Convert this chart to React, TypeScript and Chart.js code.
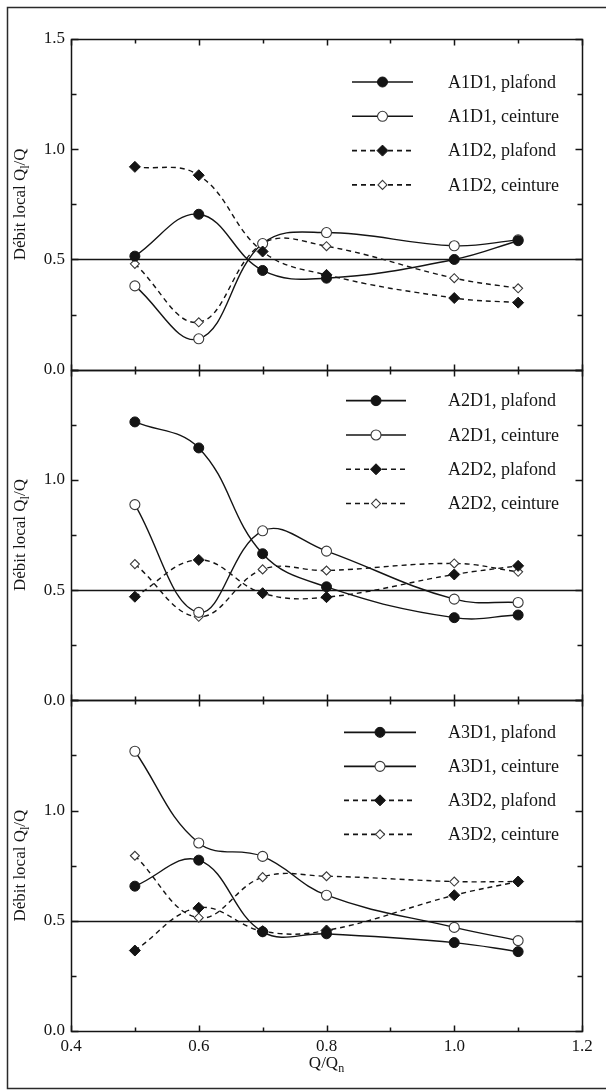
import React, { useEffect, useRef } from 'react';
import { Chart, registerables } from 'chart.js';

Chart.register(...registerables);

// ---------- data ----------
const X_VALUES = [0.5, 0.6, 0.7, 0.8, 1.0, 1.1];

const A1D1_PLAFOND = [0.515, 0.705, 0.45, 0.415, 0.5, 0.585];
const A1D1_CEINTURE = [0.38, 0.14, 0.572, 0.622, 0.562, 0.589];
const A1D2_PLAFOND = [0.92, 0.882, 0.536, 0.43, 0.325, 0.304];
const A1D2_CEINTURE = [0.48, 0.215, 0.572, 0.56, 0.415, 0.369];

const A2D1_PLAFOND = [1.263, 1.145, 0.665, 0.515, 0.375, 0.387];
const A2D1_CEINTURE = [0.888, 0.399, 0.769, 0.677, 0.459, 0.444];
const A2D2_PLAFOND = [0.47, 0.637, 0.486, 0.468, 0.571, 0.61];
const A2D2_CEINTURE = [0.618, 0.379, 0.594, 0.589, 0.621, 0.583];

const A3D1_PLAFOND = [0.657, 0.775, 0.45, 0.441, 0.401, 0.36];
const A3D1_CEINTURE = [1.269, 0.853, 0.792, 0.616, 0.47, 0.41];
const A3D2_PLAFOND = [0.365, 0.559, 0.453, 0.456, 0.616, 0.678];
const A3D2_CEINTURE = [0.795, 0.514, 0.698, 0.702, 0.678, 0.678];

const PANELS = ['A1', 'A2', 'A3'];
const PANEL_SERIES = [
  [A1D1_PLAFOND, A1D1_CEINTURE, A1D2_PLAFOND, A1D2_CEINTURE],
  [A2D1_PLAFOND, A2D1_CEINTURE, A2D2_PLAFOND, A2D2_CEINTURE],
  [A3D1_PLAFOND, A3D1_CEINTURE, A3D2_PLAFOND, A3D2_CEINTURE],
];
const SERIES_SUFFIXES = ['D1, plafond', 'D1, ceinture', 'D2, plafond', 'D2, ceinture'];

const X_MIN = 0.4;
const X_MAX = 1.2;
const X_STEP = 0.1;
const X_MAJOR = [0.4, 0.6, 0.8, 1.0, 1.2];
const X_TICK_LABELS = ['0.4', '0.6', '0.8', '1.0', '1.2'];

const Y_MIN = 0;
const Y_MAX = 1.5;
const Y_STEP = 0.25;
const Y_MAJOR = [0, 0.5, 1.0, 1.5];
const Y_TICK_LABELS = ['0.0', '0.5', '1.0', '1.5'];

const REFERENCE_LEVEL = 0.5;

const Y_TITLE_MAIN = 'Débit local Q';
const Y_TITLE_SUB = 'l';
const Y_TITLE_END = '/Q';
const X_TITLE_MAIN = 'Q/Q';
const X_TITLE_SUB = 'n';

// ---------- styles ----------
const INK = '#141414';
const FONT = "'Liberation Serif', 'Times New Roman', serif";

type SeriesStyle = { dash: number[]; shape: 'circle' | 'diamond'; filled: boolean; radius: number };
const SERIES_STYLES: SeriesStyle[] = [
  { dash: [], shape: 'circle', filled: true, radius: 5 },
  { dash: [], shape: 'circle', filled: false, radius: 5 },
  { dash: [5, 4], shape: 'diamond', filled: true, radius: 5.5 },
  { dash: [5, 4], shape: 'diamond', filled: false, radius: 4.5 },
];

const LEGEND_LAYOUT = [
  { firstRow: 43, rowGap: 34.3, x0: 352, x1: 413 },
  { firstRow: 31, rowGap: 34.3, x0: 346, x1: 406 },
  { firstRow: 32, rowGap: 34.0, x0: 344, x1: 416 },
];
const LEGEND_TEXT_X = 448;

const isMajor = (v: number, majors: number[]) => majors.some((m) => Math.abs(m - v) < 1e-6);
const labelFor = (v: number, majors: number[], labels: string[]) => {
  const i = majors.findIndex((m) => Math.abs(m - v) < 1e-6);
  return i >= 0 ? labels[i] : '';
};

function drawMarker(ctx: CanvasRenderingContext2D, st: SeriesStyle, x: number, y: number) {
  ctx.save();
  ctx.setLineDash([]);
  ctx.beginPath();
  if (st.shape === 'circle') {
    ctx.arc(x, y, st.radius, 0, Math.PI * 2);
  } else {
    ctx.moveTo(x - st.radius, y);
    ctx.lineTo(x, y - st.radius);
    ctx.lineTo(x + st.radius, y);
    ctx.lineTo(x, y + st.radius);
    ctx.closePath();
  }
  ctx.fillStyle = st.filled ? INK : '#ffffff';
  ctx.fill();
  ctx.lineWidth = st.filled ? 1 : 1.1;
  ctx.strokeStyle = st.filled ? INK : '#3a3a3a';
  ctx.stroke();
  ctx.restore();
}

const panelPlugin = {
  id: 'panelDecor',
  beforeDatasetsDraw(chart: any) {
    const { ctx, chartArea } = chart;
    ctx.save();
    ctx.strokeStyle = INK;
    ctx.lineWidth = 1.5;
    PANELS.forEach((p) => {
      const s = chart.scales['y' + p];
      const py = Math.round(s.getPixelForValue(REFERENCE_LEVEL)) + 0.5;
      ctx.beginPath();
      ctx.moveTo(chartArea.left, py);
      ctx.lineTo(chartArea.right, py);
      ctx.stroke();
    });
    ctx.restore();
  },
  afterDatasetsDraw(chart: any) {
    const { ctx, chartArea } = chart;
    const xs = chart.scales.x;
    ctx.save();
    ctx.strokeStyle = INK;
    ctx.lineWidth = 1.5;
    PANELS.forEach((p) => {
      const s = chart.scales['y' + p];
      const top = Math.round(s.top) + 0.5;
      const bottom = Math.round(s.bottom) + 0.5;
      const left = Math.round(chartArea.left) + 0.5;
      const right = Math.round(chartArea.right) + 0.5;
      ctx.strokeRect(left, top, right - left, bottom - top);
      s.ticks.forEach((t: any) => {
        const py = Math.round(s.getPixelForValue(t.value)) + 0.5;
        const len = isMajor(t.value, Y_MAJOR) ? 7 : 5;
        ctx.beginPath();
        ctx.moveTo(left, py);
        ctx.lineTo(left + len, py);
        ctx.moveTo(right, py);
        ctx.lineTo(right - len, py);
        ctx.stroke();
      });
      xs.ticks.forEach((t: any) => {
        const px = Math.round(xs.getPixelForValue(t.value)) + 0.5;
        const len = isMajor(t.value, X_MAJOR) ? 6 : 4;
        ctx.beginPath();
        ctx.moveTo(px, top);
        ctx.lineTo(px, top + len);
        ctx.moveTo(px, bottom);
        ctx.lineTo(px, bottom - len);
        ctx.stroke();
      });
    });
    ctx.restore();
  },
  afterDraw(chart: any) {
    const { ctx } = chart;
    ctx.save();
    PANELS.forEach((p, pi) => {
      const s = chart.scales['y' + p];
      const lay = LEGEND_LAYOUT[pi];
      SERIES_SUFFIXES.forEach((suf, si) => {
        const st = SERIES_STYLES[si];
        const y = s.top + lay.firstRow + si * lay.rowGap;
        ctx.save();
        ctx.strokeStyle = INK;
        ctx.lineWidth = 1.6;
        ctx.setLineDash(st.dash);
        ctx.beginPath();
        ctx.moveTo(lay.x0, y);
        ctx.lineTo(lay.x1, y);
        ctx.stroke();
        ctx.restore();
        drawMarker(ctx, st, (lay.x0 + lay.x1) / 2, y);
        ctx.fillStyle = INK;
        ctx.font = `18px ${FONT}`;
        ctx.textAlign = 'left';
        ctx.textBaseline = 'middle';
        ctx.fillText(p + suf, LEGEND_TEXT_X, y + 1);
      });
    });
    PANELS.forEach((p) => {
      const s = chart.scales['y' + p];
      const cy = (s.top + s.bottom) / 2;
      ctx.save();
      ctx.translate(19, cy);
      ctx.rotate(-Math.PI / 2);
      ctx.fillStyle = INK;
      ctx.textBaseline = 'alphabetic';
      ctx.textAlign = 'left';
      const big = `17px ${FONT}`;
      const small = `12px ${FONT}`;
      ctx.font = big;
      const w1 = ctx.measureText(Y_TITLE_MAIN).width;
      const w3 = ctx.measureText(Y_TITLE_END).width;
      ctx.font = small;
      const w2 = ctx.measureText(Y_TITLE_SUB).width;
      const total = w1 + w2 + w3;
      let x = -total / 2;
      const base = 6;
      ctx.font = big;
      ctx.fillText(Y_TITLE_MAIN, x, base);
      x += w1;
      ctx.font = small;
      ctx.fillText(Y_TITLE_SUB, x, base + 4);
      x += w2;
      ctx.font = big;
      ctx.fillText(Y_TITLE_END, x, base);
      ctx.restore();
    });
    {
      const xs = chart.scales.x;
      const cx = (xs.left + xs.right) / 2;
      const big = `17px ${FONT}`;
      const small = `12px ${FONT}`;
      ctx.fillStyle = INK;
      ctx.textBaseline = 'alphabetic';
      ctx.textAlign = 'left';
      ctx.font = big;
      const w1 = ctx.measureText(X_TITLE_MAIN).width;
      ctx.font = small;
      const w2 = ctx.measureText(X_TITLE_SUB).width;
      const x = cx - (w1 + w2) / 2;
      const base = 1068;
      ctx.font = big;
      ctx.fillText(X_TITLE_MAIN, x, base);
      ctx.font = small;
      ctx.fillText(X_TITLE_SUB, x + w1, base + 4);
    }
    ctx.strokeStyle = '#2a2a2a';
    ctx.lineWidth = 1.5;
    ctx.beginPath();
    ctx.moveTo(620, 7.5);
    ctx.lineTo(7.5, 7.5);
    ctx.lineTo(7.5, 1088.5);
    ctx.lineTo(620, 1088.5);
    ctx.stroke();
    ctx.restore();
  },
};

export default function App() {
  const canvasRef = useRef<HTMLCanvasElement | null>(null);

  useEffect(() => {
    if (!canvasRef.current) return;
    Chart.defaults.font.family = FONT;
    Chart.defaults.color = INK;

    const datasets: any[] = [];
    PANELS.forEach((p, pi) => {
      PANEL_SERIES[pi].forEach((values, si) => {
        const st = SERIES_STYLES[si];
        datasets.push({
          label: p + SERIES_SUFFIXES[si],
          data: X_VALUES.map((x, i) => ({ x, y: values[i] })),
          yAxisID: 'y' + p,
          xAxisID: 'x',
          borderColor: INK,
          borderWidth: 1.4,
          borderDash: st.dash,
          tension: 0.4,
          fill: false,
          pointStyle: st.shape === 'circle' ? 'circle' : 'rectRot',
          pointRadius: st.radius,
          pointBackgroundColor: st.filled ? INK : '#ffffff',
          pointBorderColor: st.filled ? INK : '#3a3a3a',
          pointBorderWidth: st.filled ? 1 : 1.1,
          order: st.filled ? 0 : 1,
        });
      });
    });

    const yScale = (weight: number, showTop: boolean) => ({
      type: 'linear',
      position: 'left',
      stack: 'panels',
      stackWeight: 1,
      weight,
      min: Y_MIN,
      max: Y_MAX,
      grid: { display: false, drawTicks: false },
      border: { display: false },
      ticks: {
        stepSize: Y_STEP,
        autoSkip: false,
        padding: 6,
        font: { size: 17, family: FONT },
        color: INK,
        callback: (v: number) => (!showTop && Math.abs(v - Y_MAX) < 1e-6 ? '' : labelFor(v, Y_MAJOR, Y_TICK_LABELS)),
      },
      afterFit: (s: any) => {
        s.width = 71;
      },
    });

    const chart = new Chart(canvasRef.current, {
      type: 'line',
      data: { datasets },
      options: {
        animation: false,
        responsive: false,
        devicePixelRatio: 1,
        events: [],
        layout: { padding: { left: 0, top: 39, right: 24, bottom: 0 } },
        plugins: { legend: { display: false }, tooltip: { enabled: false }, title: { display: false } },
        scales: {
          x: {
            type: 'linear',
            position: 'bottom',
            min: X_MIN,
            max: X_MAX,
            grid: { display: false, drawTicks: false },
            border: { display: false },
            ticks: {
              stepSize: X_STEP,
              autoSkip: false,
              maxRotation: 0,
              padding: 5,
              font: { size: 17, family: FONT },
              color: INK,
              callback: (v: number) => labelFor(v, X_MAJOR, X_TICK_LABELS),
            },
            afterFit: (s: any) => {
              s.height = 60;
            },
          },
          yA1: yScale(3, true),
          yA2: yScale(2, false),
          yA3: yScale(1, false),
        } as any,
      },
      plugins: [panelPlugin],
    } as any);

    return () => chart.destroy();
  }, []);

  return (
    <div style={{ position: 'absolute', left: 0, top: 0, width: 606, height: 1091, background: '#ffffff' }}>
      <canvas ref={canvasRef} width={606} height={1091} style={{ display: 'block', width: 606, height: 1091 }} />
    </div>
  );
}
